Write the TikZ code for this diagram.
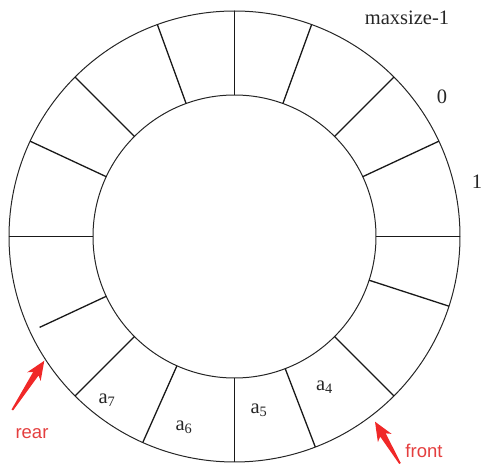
\documentclass[tikz,border=0pt]{standalone}
\usepackage{fontspec}
\setmainfont{Liberation Serif}
\newfontfamily\arrowfont{Liberation Sans}
\usetikzlibrary{calc}
\definecolor{arrowred}{RGB}{240,40,40}
\definecolor{labelred}{RGB}{228,62,62}
\newcommand{\taperarrow}[2]{%
  \coordinate (hb) at ($(#2)!19pt!(#1)$);
  \coordinate (hs) at ($(#2)!15.5pt!(#1)$);
  \fill[arrowred] ($(#1)!0.9pt!90:(#2)$) -- ($(hs)!3.2pt!90:(#2)$) -- ($(hb)!8pt!90:(#2)$) -- (#2)
     -- ($(hb)!8pt!-90:(#2)$) -- ($(hs)!3.2pt!-90:(#2)$) -- ($(#1)!0.9pt!-90:(#2)$) -- cycle;
}
\begin{document}
\begin{tikzpicture}[x=1pt,y=1pt,
  ring/.style={line width=1pt, draw=black!85},
  spoke/.style={line width=1.3pt, draw=black!90},
  lbl/.style={inner sep=0pt, text=black!85, font=\fontsize{20.5}{24}\selectfont},
  redlbl/.style={inner sep=0pt, text=labelred, font=\arrowfont\fontsize{18.5}{22}\selectfont}]
\useasboundingbox (0,0) rectangle (483,464);
\coordinate (c) at (234.5,227.5);
\draw[ring] (c) circle[radius=225.5];
\draw[ring] (c) circle[radius=141.5];
\foreach \a in {0,25,45,70,90,110,135,155,180,225,246,270,291,315,342}
  \draw[spoke] ($(c)+(\a:141.5)$) -- ($(c)+(\a:225.5)$);
\draw[spoke] ($(c)+(205:141.5)$) -- ($(c)+(205:215)$);
\node[lbl] (maxl) at (407,446) {maxsize-1};
\node[lbl] (zero) at (442,367) {0};
\node[lbl] (one) at (477,282) {1};
\node[lbl] (a4) at (324.5,77) {a\textsubscript{4}};
\node[lbl] (a5) at (259,54) {a\textsubscript{5}};
\node[lbl] (a6) at (184,37) {a\textsubscript{6}};
\node[lbl] (a7) at (107,64) {a\textsubscript{7}};
\node[redlbl] (rear) at (32,30.5) {rear};
\node[redlbl] (front) at (424,13.5) {front};
\coordinate (reartail) at (12.3,54);
\coordinate (reartip) at (44.3,103.3);
\coordinate (fronttail) at (400,0.5);
\coordinate (fronttip) at (375,42.3);
\taperarrow{reartail}{reartip}
\taperarrow{fronttail}{fronttip}
\end{tikzpicture}
\end{document}
